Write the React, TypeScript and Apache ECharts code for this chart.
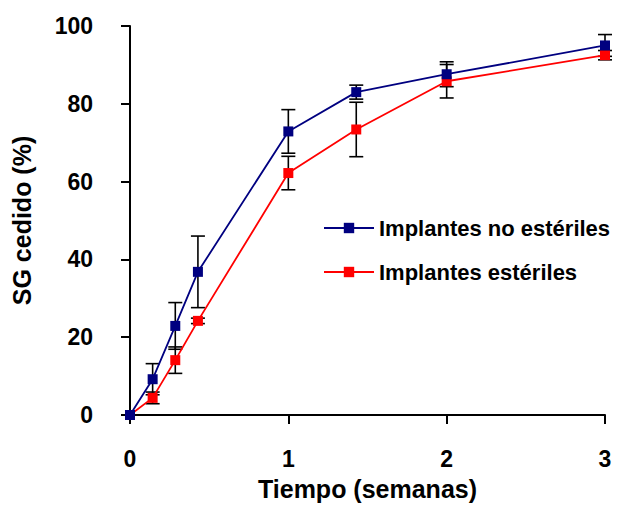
import React, { useEffect, useRef } from "react";
import * as echarts from "echarts";

// Time in weeks (0, 1, 2, 3 days, 1 week, 10 days, 2 and 3 weeks)
const tiempo = [0, 0.143, 0.286, 0.429, 1, 1.429, 2, 3];

// Released SG (%) – mean and standard deviation
const noEsteriles = [0, 9.2, 22.9, 36.8, 72.9, 83.0, 87.6, 95.0];
const noEsterilesErr = [0, 4.0, 6.0, 9.2, 5.6, 1.8, 3.2, 2.8];
const esteriles = [0, 4.4, 14.1, 24.2, 62.2, 73.4, 85.8, 92.5];
const esterilesErr = [0, 1.5, 3.4, 0.7, 4.3, 7.0, 4.3, 1.2];

const yTicks = [0, 20, 40, 60, 80, 100];
const xTicks = [0, 1, 2, 3];

const FONT = "'Liberation Sans', Arial, sans-serif";

const toPairs = (ys: number[]) => tiempo.map((t, i) => [t, ys[i]]);
const toErr = (ys: number[], es: number[]) =>
  tiempo.map((t, i) => [t, ys[i] - es[i], ys[i] + es[i]]);

const errorBarItem = (params: any, api: any) => {
  const x = api.value(0);
  const lo = api.coord([x, api.value(1)]);
  const hi = api.coord([x, api.value(2)]);
  if (Math.abs(hi[1] - lo[1]) < 0.5) return null;
  const half = 7;
  const style = { stroke: "#000", lineWidth: 1.6 };
  return {
    type: "group",
    children: [
      { type: "line", shape: { x1: hi[0], y1: hi[1], x2: lo[0], y2: lo[1] }, style },
      { type: "line", shape: { x1: hi[0] - half, y1: hi[1], x2: hi[0] + half, y2: hi[1] }, style },
      { type: "line", shape: { x1: lo[0] - half, y1: lo[1], x2: lo[0] + half, y2: lo[1] }, style },
    ],
  };
};

export default function App() {
  const ref = useRef<HTMLDivElement>(null);

  useEffect(() => {
    if (!ref.current) return;
    const chart = echarts.init(ref.current, null, { renderer: "svg" });
    const axisCommon = {
      axisLine: { show: true, lineStyle: { color: "#000", width: 2 } },
      axisTick: { show: true, inside: false, length: 9, lineStyle: { color: "#000", width: 2 } },
      splitLine: { show: false },
      nameTextStyle: { fontFamily: FONT, fontWeight: "bold", fontSize: 25, color: "#000" },
    };
    chart.setOption({
      animation: false,
      backgroundColor: "#fff",
      grid: { left: 130, right: 27, top: 26, bottom: 91 },
      legend: {
        orient: "vertical",
        left: 318,
        top: 212,
        itemWidth: 50,
        itemHeight: 13,
        itemGap: 22,
        textStyle: { fontFamily: FONT, fontWeight: "bold", fontSize: 22, color: "#000", lineHeight: 22 },
        data: ["Implantes no estériles", "Implantes estériles"],
      },
      xAxis: {
        type: "value",
        min: xTicks[0],
        max: xTicks[xTicks.length - 1],
        interval: 1,
        name: "Tiempo (semanas)",
        nameLocation: "middle",
        nameGap: 61,
        ...axisCommon,
        axisLabel: { fontFamily: FONT, fontWeight: "bold", fontSize: 23, color: "#000", margin: 32 },
      },
      yAxis: {
        type: "value",
        min: yTicks[0],
        max: yTicks[yTicks.length - 1],
        interval: 20,
        name: "SG cedido (%)",
        nameLocation: "middle",
        nameGap: 96,
        ...axisCommon,
        axisLabel: { fontFamily: FONT, fontWeight: "bold", fontSize: 23, color: "#000", margin: 37 },
      },
      series: [
        {
          type: "custom",
          name: "err-no-esteriles",
          renderItem: errorBarItem,
          data: toErr(noEsteriles, noEsterilesErr),
          encode: { x: 0, y: [1, 2] },
          z: 1,
          silent: true,
        },
        {
          type: "custom",
          name: "err-esteriles",
          renderItem: errorBarItem,
          data: toErr(esteriles, esterilesErr),
          encode: { x: 0, y: [1, 2] },
          z: 1,
          silent: true,
        },
        {
          type: "line",
          name: "Implantes no estériles",
          data: toPairs(noEsteriles),
          symbol: "rect",
          symbolSize: 10,
          color: "#000080",
          lineStyle: { color: "#000080", width: 1.8 },
          itemStyle: { color: "#000080" },
          z: 3,
        },
        {
          type: "line",
          name: "Implantes estériles",
          data: toPairs(esteriles),
          symbol: "rect",
          symbolSize: 10,
          color: "#ff0000",
          lineStyle: { color: "#ff0000", width: 1.8 },
          itemStyle: { color: "#ff0000" },
          z: 2,
        },
      ],
    });
    return () => chart.dispose();
  }, []);

  return (
    <div
      ref={ref}
      style={{ position: "fixed", left: 0, top: 0, width: 632, height: 506, background: "#fff" }}
    />
  );
}
